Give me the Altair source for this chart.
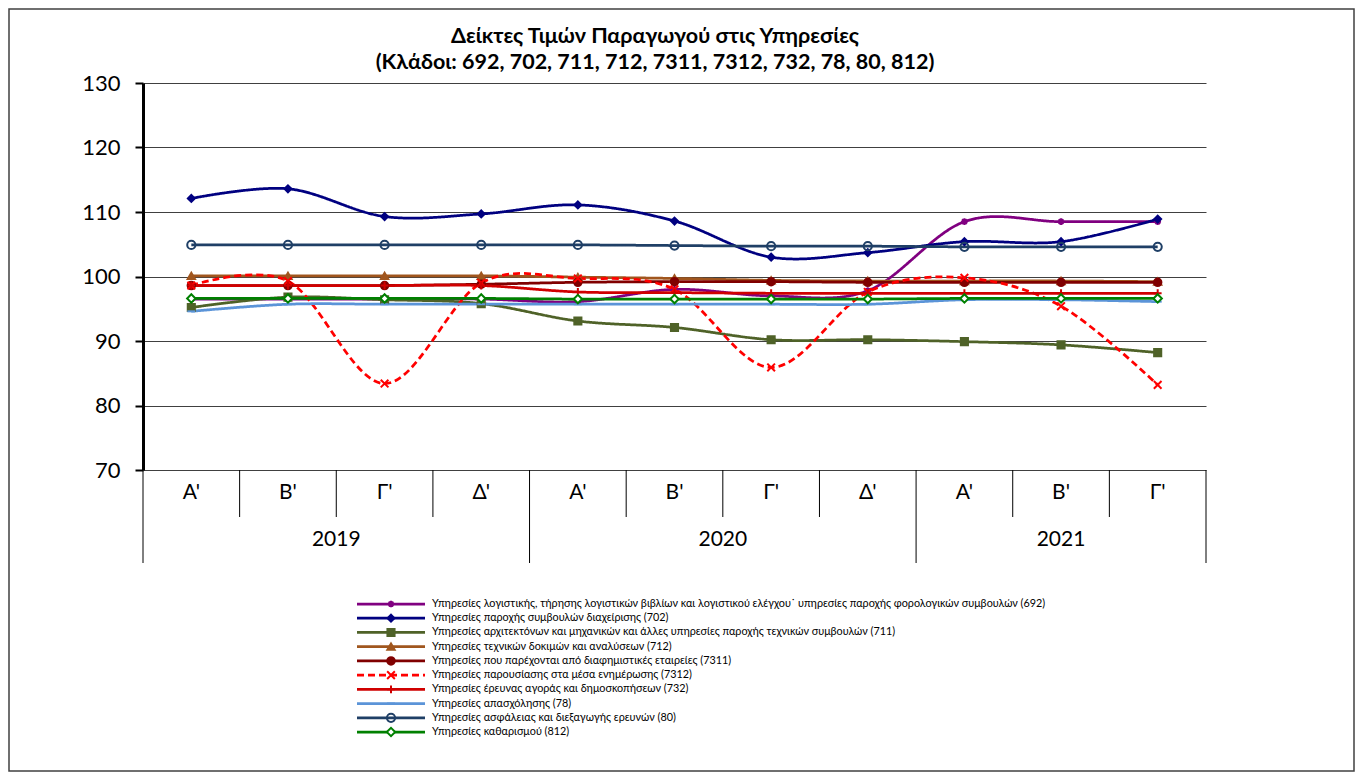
import altair as alt
import pandas as pd

# ---------------- data ----------------
quarters = ["A'", "B'", "Γ'", "Δ'", "A'", "B'", "Γ'", "Δ'", "A'", "B'", "Γ'"]
years = ["2019", "2020", "2021"]
quarters_per_year = [4, 4, 3]

codes = ["692", "702", "711", "712", "7311", "7312", "732", "78", "80", "812"]
labels = [
    "Υπηρεσίες λογιστικής, τήρησης λογιστικών βιβλίων και λογιστικού ελέγχου˙ υπηρεσίες παροχής φορολογικών συμβουλών (692)",
    "Υπηρεσίες παροχής συμβουλών διαχείρισης (702)",
    "Υπηρεσίες αρχιτεκτόνων και μηχανικών και άλλες υπηρεσίες παροχής τεχνικών συμβουλών (711)",
    "Υπηρεσίες τεχνικών δοκιμών και αναλύσεων (712)",
    "Υπηρεσίες που παρέχονται από διαφημιστικές εταιρείες (7311)",
    "Υπηρεσίες παρουσίασης στα μέσα ενημέρωσης (7312)",
    "Υπηρεσίες έρευνας αγοράς και δημοσκοπήσεων (732)",
    "Υπηρεσίες απασχόλησης (78)",
    "Υπηρεσίες ασφάλειας και διεξαγωγής ερευνών (80)",
    "Υπηρεσίες καθαρισμού (812)",
]

v692 = [96.5, 96.5, 96.5, 96.5, 96.1, 98.0, 97.0, 97.8, 108.5, 108.5, 108.5]
v702 = [112.1, 113.6, 109.3, 109.7, 111.1, 108.6, 103.0, 103.7, 105.4, 105.4, 108.9]
v711 = [95.2, 96.8, 96.4, 95.8, 93.1, 92.1, 90.2, 90.2, 89.9, 89.4, 88.2]
v712 = [100.1, 100.1, 100.1, 100.1, 99.9, 99.7, 99.4, 99.3, 99.3, 99.3, 99.2]
v7311 = [98.6, 98.6, 98.6, 98.8, 99.1, 99.2, 99.2, 99.1, 99.1, 99.1, 99.1]
v7312 = [98.6, 99.3, 83.4, 99.0, 99.7, 98.0, 85.9, 97.6, 99.8, 95.4, 83.2]
v732 = [98.6, 98.6, 98.6, 98.6, 97.6, 97.5, 97.4, 97.4, 97.4, 97.4, 97.4]
v78 = [94.6, 95.7, 95.7, 95.7, 95.7, 95.7, 95.7, 95.7, 96.4, 96.4, 96.1]
v80 = [104.9, 104.9, 104.9, 104.9, 104.9, 104.8, 104.7, 104.7, 104.6, 104.6, 104.6]
v812 = [96.6, 96.6, 96.6, 96.6, 96.5, 96.5, 96.5, 96.5, 96.6, 96.6, 96.6]
values = [v692, v702, v711, v712, v7311, v7312, v732, v78, v80, v812]

colors = ["#800080", "#000080", "#4F6228", "#A0561E", "#800000",
          "#FF0000", "#D00000", "#5B94D8", "#1F3F66", "#008000"]
fills = ["#800080", "#000080", "#4F6228", "#A0561E", "#800000",
         "#FF0000", "#D00000", "#5B94D8", "transparent", "white"]
shapes = [
    "M-1,0L1,0M0,-1L0,1M-0.7,-0.7L0.7,0.7M-0.7,0.7L0.7,-0.7",
    "diamond",
    "square",
    "triangle-up",
    "circle",
    "M-1,-1L1,1M-1,1L1,-1",
    "M-1,0L1,0M0,-1L0,1",
    "M-1,0L1,0",
    "circle",
    "diamond",
]
sizes = [45, 70, 50, 70, 110, 55, 35, 25, 85, 55]
dashes = [[1, 0], [1, 0], [1, 0], [1, 0], [1, 0], [7, 4], [1, 0], [1, 0], [1, 0], [1, 0]]

y_ticks = [70, 80, 90, 100, 110, 120, 130]
title_lines = ["Δείκτες Τιμών Παραγωγού στις Υπηρεσίες",
               "(Κλάδοι: 692, 702, 711, 712, 7311, 7312, 732, 78, 80, 812)"]

FONT = "Lato, 'Noto Sans', sans-serif"
W, H = 1063, 387

# ---------------- tables ----------------
rows = []
for k, (c, vals) in enumerate(zip(codes, values)):
    for i, v in enumerate(vals):
        rows.append({"series": c, "k": k, "idx": i, "value": v})
df = pd.DataFrame(rows)

qdf = pd.DataFrame({"idx": list(range(len(quarters))), "q": quarters})

ydf_rows, qsep, ysep = [], [], []
start = 0
for y, n in zip(years, quarters_per_year):
    ydf_rows.append({"pos": start + (n - 1) / 2, "year": y})
    ysep.append(start - 0.5)
    for j in range(n - 1):
        qsep.append(start + j + 0.5)
    start += n
ysep.append(start - 0.5)
ydf = pd.DataFrame(ydf_rows)
qsepdf = pd.DataFrame({"pos": qsep})
ysepdf = pd.DataFrame({"pos": ysep})

legdf = pd.DataFrame({"series": codes, "label": labels})
titledf = pd.DataFrame({"t": title_lines, "line": [0, 1]})

# ---------------- encodings ----------------
xs = alt.Scale(domain=[-0.5, len(quarters) - 0.5], nice=False, zero=False)
ys = alt.Scale(domain=[70, 130], nice=False, zero=False)
col = alt.Color("series:N", scale=alt.Scale(domain=codes, range=colors), legend=None)
stk = alt.Stroke("series:N", scale=alt.Scale(domain=codes, range=colors), legend=None)
fil = alt.Fill("series:N", scale=alt.Scale(domain=codes, range=fills), legend=None)
shp = alt.Shape("series:N", scale=alt.Scale(domain=codes, range=shapes), legend=None)
siz = alt.Size("series:N", scale=alt.Scale(domain=codes, range=sizes), legend=None)
dsh = alt.StrokeDash("series:N", scale=alt.Scale(domain=codes, range=dashes), legend=None)

dummy = pd.DataFrame({"a": [0]})

frame = alt.Chart(dummy).mark_rect(fillOpacity=0, stroke="#404040", strokeWidth=1.5).encode(
    x=alt.value(-134), x2=alt.value(W + 148), y=alt.value(-74), y2=alt.value(H + 301)
)

title = alt.Chart(titledf).mark_text(fontSize=21.5, font=FONT, fontWeight="bold",
                                     color="black", baseline="middle", align="center").encode(
    x=alt.value(512),
    y=alt.Y("line:O", scale=alt.Scale(type="point", domain=[0, 1], range=[-46, -20], padding=0), axis=None),
    text="t:N",
)

lines = alt.Chart(df).mark_line(interpolate="cardinal", strokeWidth=2.75).encode(
    x=alt.X("idx:Q", scale=xs, axis=None),
    y=alt.Y("value:Q", scale=ys, axis=alt.Axis(
        values=y_ticks, grid=True, gridColor="#404040", gridWidth=1,
        domainColor="black", domainWidth=3, tickColor="black", tickWidth=2,
        tickSize=8, labelFontSize=22, labelFont=FONT, labelColor="black",
        labelPadding=15, title=None)),
    color=col, strokeDash=dsh, detail="series:N",
    order=alt.Order("k:Q"),
)

points = alt.Chart(df).mark_point(strokeWidth=2, opacity=1).encode(
    x=alt.X("idx:Q", scale=xs, axis=None),
    y=alt.Y("value:Q", scale=ys, axis=None),
    shape=shp, size=siz, fill=fil, stroke=stk,
    order=alt.Order("k:Q"),
)

qlabels = alt.Chart(qdf).mark_text(fontSize=21, font=FONT, color="black", baseline="middle").encode(
    x=alt.X("idx:Q", scale=xs, axis=None), y=alt.value(H + 23), text="q:N"
)
qrules = alt.Chart(qsepdf).mark_rule(color="black", strokeWidth=1).encode(
    x=alt.X("pos:Q", scale=xs, axis=None), y=alt.value(H), y2=alt.value(H + 47)
)
yrules = alt.Chart(ysepdf).mark_rule(color="black", strokeWidth=1).encode(
    x=alt.X("pos:Q", scale=xs, axis=None), y=alt.value(H), y2=alt.value(H + 93)
)
ylabels = alt.Chart(ydf).mark_text(fontSize=21, font=FONT, color="black", baseline="middle").encode(
    x=alt.X("pos:Q", scale=xs, axis=None), y=alt.value(H + 70), text="year:N"
)

ly = alt.Y("series:N", sort=codes,
           scale=alt.Scale(type="point", domain=codes, range=[521, 649], padding=0),
           axis=None)
leg_rules = alt.Chart(legdf).mark_rule(strokeWidth=2.75).encode(
    x=alt.value(214), x2=alt.value(282), y=ly, color=col, strokeDash=dsh
)
leg_points = alt.Chart(legdf).mark_point(strokeWidth=2, opacity=1).encode(
    x=alt.value(248), y=ly, shape=shp, size=siz, fill=fil, stroke=stk
)
leg_text = alt.Chart(legdf).mark_text(align="left", baseline="middle", fontSize=10.8,
                                       font=FONT, color="black").encode(
    x=alt.value(289), y=ly, text="label:N"
)

chart = alt.layer(
    frame, title, lines, points, yrules, qrules, qlabels, ylabels,
    leg_rules, leg_points, leg_text
).resolve_scale(y="independent").properties(
    width=W, height=H,
    autosize=alt.AutoSizeParams(type="none"),
    padding={"left": 135, "top": 75, "right": 150, "bottom": 302},
    background="white",
).configure_view(stroke=None)

chart.save("out.html", embed_options={"renderer": "svg", "actions": False})
